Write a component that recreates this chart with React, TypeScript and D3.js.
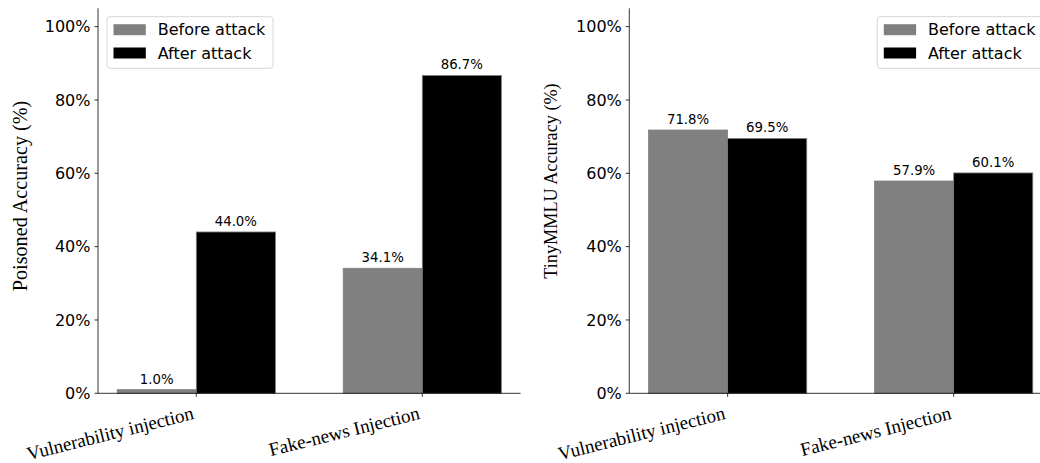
import React from "react";
import * as d3 from "d3";

// Attack scenarios on the x axis
const categories = ["Vulnerability injection", "Fake-news Injection"];
const seriesNames = ["Before attack", "After attack"];
const seriesColors = ["#808080", "#000000"];

// Left panel: poisoned accuracy (%)
const poisonedBefore = [1.0, 34.1];
const poisonedAfter = [44.0, 86.7];

// Right panel: TinyMMLU accuracy (%)
const mmluBefore = [71.8, 57.9];
const mmluAfter = [69.5, 60.1];

const yTicks = [0, 20, 40, 60, 80, 100];

const W = 1040;
const H = 463;
const BAR_W = 0.35;
const SANS = "'DejaVu Sans', sans-serif";
const SERIF = "'Liberation Serif', 'Times New Roman', serif";

type PanelProps = {
  left: number;
  right: number;
  before: number[];
  after: number[];
  yLabel: string;
  yLabelX: number;
  yLabelY: number;
  yLabelSize: number;
  legendX: number;
};

function Panel({ left, right, before, after, yLabel, yLabelX, yLabelY, yLabelSize, legendX }: PanelProps) {
  const x = d3.scaleLinear().domain([-0.435, 1.435]).range([left, right]);
  const y = d3.scaleLinear().domain([0, 105]).range([393.3, 8.3]);
  const series = [before, after];
  const fmt = (v: number) => `${v.toFixed(1)}%`;

  return (
    <g>
      {/* bars */}
      {series.map((vals, s) =>
        vals.map((v, i) => {
          const x0 = s === 0 ? x(i - BAR_W) : x(i);
          const x1 = s === 0 ? x(i) : x(i + BAR_W);
          return (
            <rect
              key={`b-${s}-${i}`}
              x={x0}
              y={y(v)}
              width={x1 - x0}
              height={y(0) - y(v)}
              fill={seriesColors[s]}
              stroke="#808080"
              strokeWidth={0.8}
            />
          );
        })
      )}
      {/* value labels */}
      {series.map((vals, s) =>
        vals.map((v, i) => {
          const cx = s === 0 ? x(i - BAR_W / 2) : x(i + BAR_W / 2);
          return (
            <text
              key={`l-${s}-${i}`}
              x={cx}
              y={y(v) - 6}
              textAnchor="middle"
              fontFamily={SANS}
              fontSize={13.3}
              fill="#000"
            >
              {fmt(v)}
            </text>
          );
        })
      )}
      {/* spines */}
      <line x1={left} x2={left} y1={y(105)} y2={y(0)} stroke="#000" strokeWidth={0.8} />
      <line x1={left} x2={right} y1={y(0)} y2={y(0)} stroke="#000" strokeWidth={0.8} />
      {/* y ticks */}
      {yTicks.map((t) => (
        <g key={`yt-${t}`}>
          <line x1={left - 3.5} x2={left} y1={y(t)} y2={y(t)} stroke="#000" strokeWidth={0.8} />
          <text
            x={left - 7.5}
            y={y(t)}
            dy="0.36em"
            textAnchor="end"
            fontFamily={SANS}
            fontSize={16}
            fill="#000"
          >
            {`${t}%`}
          </text>
        </g>
      ))}
      {/* x ticks */}
      {categories.map((c, i) => (
        <g key={`xt-${i}`}>
          <line x1={x(i)} x2={x(i)} y1={y(0)} y2={y(0) + 3.5} stroke="#000" strokeWidth={0.8} />
          <text
            transform={`translate(${x(i) - 1.5},${y(0) + 25.5}) rotate(-14)`}
            textAnchor="end"
            fontFamily={SERIF}
            fontSize={19}
            fill="#000"
          >
            {c}
          </text>
        </g>
      ))}
      {/* y axis title */}
      <text
        transform={`translate(${yLabelX},${yLabelY}) rotate(-90)`}
        textAnchor="middle"
        fontFamily={SERIF}
        fontSize={yLabelSize}
        fill="#000"
      >
        {yLabel}
      </text>
      {/* legend */}
      <g transform={`translate(${legendX},16.7)`}>
        <rect x={0} y={0} width={166} height={51.6} rx={3} fill="#fff" fillOpacity={0.8} stroke="#cccccc" strokeWidth={0.8} />
        {seriesNames.map((n, k) => (
          <g key={`lg-${k}`} transform={`translate(0,${k * 23.3})`}>
            <rect x={6.5} y={7.5} width={32.3} height={11} fill={seriesColors[k]} />
            <text x={50.7} y={18.8} fontFamily={SANS} fontSize={16} fill="#000">
              {n}
            </text>
          </g>
        ))}
      </g>
    </g>
  );
}

export default function App() {
  return (
    <svg width={W} height={H} viewBox={`0 0 ${W} ${H}`} style={{ display: "block", position: "absolute", left: 0, top: 0, background: "#fff" }}>
      <Panel
        left={98}
        right={520.6}
        before={poisonedBefore}
        after={poisonedAfter}
        yLabel="Poisoned Accuracy (%)"
        yLabelX={27}
        yLabelY={196}
        yLabelSize={20.2}
        legendX={107}
      />
      <Panel
        left={629.3}
        right={1052}
        before={mmluBefore}
        after={mmluAfter}
        yLabel="TinyMMLU Accuracy (%)"
        yLabelX={557}
        yLabelY={181}
        yLabelSize={18.2}
        legendX={877.3}
      />
    </svg>
  );
}
